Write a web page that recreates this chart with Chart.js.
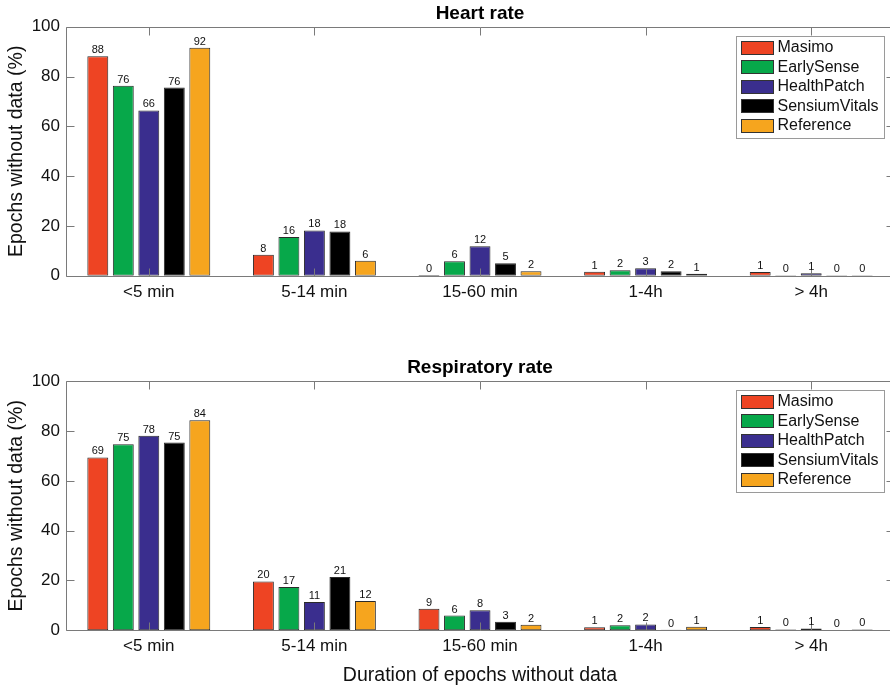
<!DOCTYPE html>
<html><head><meta charset="utf-8">
<script src="https://cdn.jsdelivr.net/npm/chart.js@4.4.1/dist/chart.umd.min.js"></script>
<style>
html,body{margin:0;padding:0;background:#fff;overflow:hidden;width:890px;height:687px;position:relative;}
.box{position:absolute;left:0;width:900px;}
#w1{top:0;height:340px;}
#w2{top:340px;height:347px;}
</style></head><body>
<div class="box" id="w1"><canvas id="c1"></canvas></div>
<div class="box" id="w2"><canvas id="c2"></canvas></div>
<script>
const categories = ['<5 min', '5-14 min', '15-60 min', '1-4h', '> 4h'];
const seriesNames = ['Masimo', 'EarlySense', 'HealthPatch', 'SensiumVitals', 'Reference'];
const seriesColors = ['#ee4423', '#07a84a', '#3a2e8e', '#000000', '#f6a51e'];
const yTicks = [0, 20, 40, 60, 80, 100];

// Heart rate: % of epochs without data
const hrMasimo      = [88.2, 8.5, 0.3, 1.6, 1.5];
const hrEarlySense  = [76.3, 15.6, 5.8, 2.2, 0.2];
const hrHealthPatch = [66.4, 18.2, 11.9, 3.0, 1.0];
const hrSensium     = [75.6, 17.8, 5.0, 1.8, 0.2];
const hrReference   = [91.6, 6.0, 1.8, 0.8, 0.2];
const hrMasimoLbl      = [88, 8, 0, 1, 1];
const hrEarlySenseLbl  = [76, 16, 6, 2, 0];
const hrHealthPatchLbl = [66, 18, 12, 3, 1];
const hrSensiumLbl     = [76, 18, 5, 2, 0];
const hrReferenceLbl   = [92, 6, 2, 1, 0];

// Respiratory rate: % of epochs without data
const rrMasimo      = [69.4, 19.6, 8.6, 1.2, 1.3];
const rrEarlySense  = [74.7, 17.4, 5.9, 2.0, 0.3];
const rrHealthPatch = [78.1, 11.3, 8.0, 2.3, 0.7];
const rrSensium     = [75.4, 21.4, 3.4, 0.2, 0.1];
const rrReference   = [84.4, 11.7, 2.2, 1.4, 0.3];
const rrMasimoLbl      = [69, 20, 9, 1, 1];
const rrEarlySenseLbl  = [75, 17, 6, 2, 0];
const rrHealthPatchLbl = [78, 11, 8, 2, 1];
const rrSensiumLbl     = [75, 21, 3, 0, 0];
const rrReferenceLbl   = [84, 12, 2, 1, 0];

const FONT = "'Liberation Sans', Arial, Helvetica, sans-serif";
const AXIS_COLOR = '#7a7a7a';
const TEXT = '#111';

const boxPlugin = {
  id: 'boxAxes',
  afterDatasetsDraw(chart) {
    const {ctx, chartArea: a, scales: {x, y}} = chart;
    ctx.save();
    ctx.strokeStyle = AXIS_COLOR; ctx.lineWidth = 1;
    const L = Math.round(a.left) + 0.5, R = Math.round(a.right) + 0.5,
          T = Math.round(a.top) + 0.5, B = Math.round(a.bottom) + 0.5;
    const len = 8;
    ctx.beginPath();
    ctx.rect(L, T, R - L, B - T);
    y.ticks.forEach((t, i) => {
      const py = Math.round(y.getPixelForTick(i)) + 0.5;
      ctx.moveTo(L, py); ctx.lineTo(L + len, py);
      ctx.moveTo(R, py); ctx.lineTo(R - len, py);
    });
    x.ticks.forEach((t, i) => {
      const px = Math.round(x.getPixelForTick(i)) + 0.5;
      ctx.moveTo(px, B); ctx.lineTo(px, B - len);
      ctx.moveTo(px, T); ctx.lineTo(px, T + len);
    });
    ctx.stroke();
    ctx.restore();
  }
};

const valueLabelPlugin = {
  id: 'valueLabels',
  afterDatasetsDraw(chart) {
    const ctx = chart.ctx;
    ctx.save();
    ctx.font = '11px ' + FONT; ctx.fillStyle = TEXT;
    ctx.textAlign = 'center'; ctx.textBaseline = 'alphabetic';
    chart.data.datasets.forEach((ds, i) => {
      chart.getDatasetMeta(i).data.forEach((el, j) => {
        ctx.fillText(String(ds.valueLabels[j]), el.x, el.y - 3);
      });
    });
    ctx.restore();
  }
};

const legendPlugin = {
  id: 'boxLegend',
  afterDraw(chart) {
    const {ctx, chartArea: a} = chart;
    const ds = chart.data.datasets;
    ctx.save();
    ctx.font = '16px ' + FONT;
    const tw = Math.max(...ds.map(d => ctx.measureText(d.label).width));
    const sw = 33, sh = 14, pad = 4.5, gap = 4, row = 19.5;
    const w = Math.round(pad + sw + gap + tw + 5), h = Math.round(ds.length * row + 4);
    const left = Math.round(a.right - 10 - w), top = Math.round(a.top + 9);
    ctx.fillStyle = '#fff'; ctx.fillRect(left, top, w, h);
    ctx.strokeStyle = '#9a9a9a'; ctx.lineWidth = 1; ctx.strokeRect(left + 0.5, top + 0.5, w, h);
    ds.forEach((d, i) => {
      const cy = top + 11.5 + i * row;
      const sx = Math.round(left + pad), sy = Math.round(cy - sh / 2);
      ctx.fillStyle = d.backgroundColor; ctx.fillRect(sx, sy, sw, sh);
      ctx.strokeStyle = '#333'; ctx.strokeRect(sx + 0.5, sy + 0.5, sw - 1, sh - 1);
      ctx.fillStyle = TEXT; ctx.textBaseline = 'middle'; ctx.textAlign = 'left';
      ctx.fillText(d.label, left + pad + sw + gap, cy + 0.5);
    });
    ctx.restore();
  }
};

function makeChart(id, title, series, labels, o) {
  return new Chart(document.getElementById(id), {
    type: 'bar',
    data: {
      labels: categories,
      datasets: seriesNames.map((n, i) => ({
        label: n, data: series[i], valueLabels: labels[i],
        backgroundColor: seriesColors[i], borderColor: '#2a2a2a', borderWidth: 1,
        borderSkipped: false, barPercentage: 0.82, categoryPercentage: 0.77
      }))
    },
    options: {
      responsive: true, maintainAspectRatio: false, animation: false,
      layout: {padding: {left: 0, right: 6, top: 0, bottom: o.padBottom}},
      plugins: {
        legend: {display: false}, tooltip: {enabled: false},
        title: {display: true, text: title, fullSize: false, color: '#000',
          font: {family: FONT, size: 19, weight: 'bold', lineHeight: 1.2},
          padding: {top: o.titleTop, bottom: 2}}
      },
      scales: {
        x: {
          grid: {display: false, drawTicks: false}, border: {display: false},
          ticks: {font: {family: FONT, size: 17}, color: TEXT, padding: 6, maxRotation: 0, autoSkip: false},
          title: o.xTitle ? {display: true, text: o.xTitle, color: TEXT,
            font: {family: FONT, size: 19.5, lineHeight: 1.2}, padding: {top: 1, bottom: 0}} : {display: false}
        },
        y: {
          min: yTicks[0], max: yTicks[yTicks.length - 1],
          afterFit(s) { s.width = 66; },
          grid: {display: false, drawTicks: false}, border: {display: false},
          ticks: {stepSize: yTicks[1] - yTicks[0], font: {family: FONT, size: 17}, color: TEXT, padding: 6},
          title: {display: true, text: 'Epochs without data (%)', color: TEXT,
            font: {family: FONT, size: 19.5, lineHeight: 1.2}, padding: {top: 5, bottom: 0}}
        }
      }
    },
    plugins: [boxPlugin, valueLabelPlugin, legendPlugin]
  });
}

makeChart('c1', 'Heart rate',
  [hrMasimo, hrEarlySense, hrHealthPatch, hrSensium, hrReference],
  [hrMasimoLbl, hrEarlySenseLbl, hrHealthPatchLbl, hrSensiumLbl, hrReferenceLbl],
  {titleTop: 2, padBottom: 31.8});
makeChart('c2', 'Respiratory rate',
  [rrMasimo, rrEarlySense, rrHealthPatch, rrSensium, rrReference],
  [rrMasimoLbl, rrEarlySenseLbl, rrHealthPatchLbl, rrSensiumLbl, rrReferenceLbl],
  {titleTop: 16.5, padBottom: 0, xTitle: 'Duration of epochs without data'});
</script>
</body></html>
